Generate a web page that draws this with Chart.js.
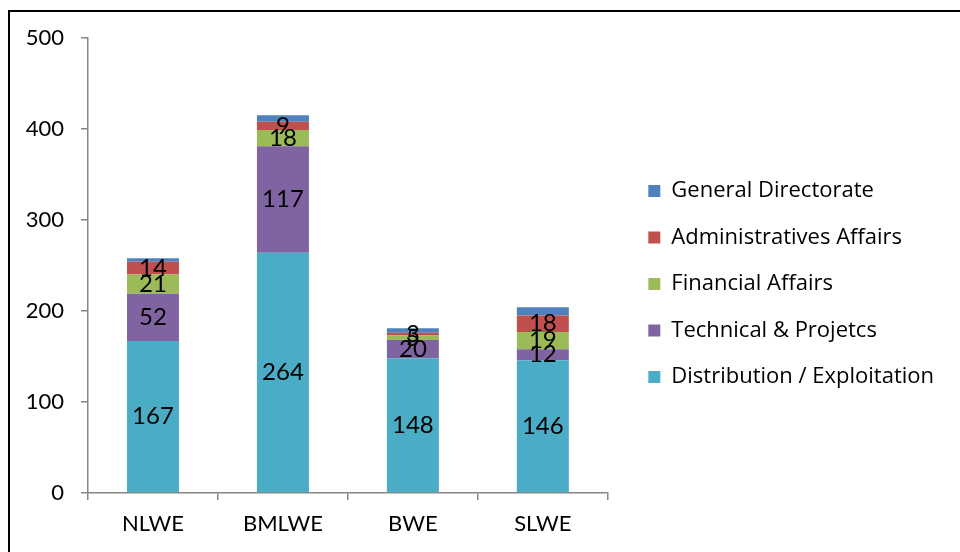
<!DOCTYPE html>
<html>
<head>
<meta charset="utf-8">
<script src="https://cdn.jsdelivr.net/npm/chart.js@4.4.0/dist/chart.umd.min.js"></script>
<style>
  html, body { margin: 0; padding: 0; background: #fff; }
  #wrap { position: relative; width: 960px; height: 552px; overflow: hidden; }
  #frame { position: absolute; left: 8px; top: 10px; width: 960px; height: 560px; border-top: 2px solid #000; border-left: 2px solid #000; pointer-events: none; }
  canvas { position: absolute; left: 0; top: 0; }
</style>
</head>
<body>
<div id="wrap">
  <div id="frame"></div>
  <canvas id="chart" width="960" height="552"></canvas>
</div>
<script>
var categories = ['NLWE', 'BMLWE', 'BWE', 'SLWE'];
var distribution = [167, 264, 148, 146];
var technical = [52, 117, 20, 12];
var financial = [21, 18, 5, 19];
var administrative = [14, 9, 3, 18];
var general = [4, 7, 5, 9];
var yTicks = [0, 100, 200, 300, 400, 500];

var FONT = 'Lato, "Open Sans", sans-serif';
var LEGEND_FONT = '"Open Sans", Lato, sans-serif';
var AXIS = '#868686';

// draws the value in the middle of each stacked segment
var barLabels = {
    id: 'barLabels',
    afterDatasetsDraw: function(chart) {
        var ctx = chart.ctx;
        ctx.save();
        ctx.font = '24px ' + FONT;
        ctx.fillStyle = '#000';
        ctx.textAlign = 'center';
        ctx.textBaseline = 'middle';
        chart.data.datasets.forEach(function(ds, i) {
            if (!ds.showLabels) return;
            chart.getDatasetMeta(i).data.forEach(function(bar, j) {
                var p = bar.getProps(['x', 'y', 'base'], true);
                ctx.fillText(ds.data[j], p.x, (p.y + p.base) / 2);
            });
        });
        ctx.restore();
    }
};

var ctx = document.getElementById('chart').getContext('2d');
var myChart = new Chart(ctx, {
    type: 'bar',
    data: {
        labels: categories,
        datasets: [
            { label: 'Distribution / Exploitation', data: distribution, backgroundColor: '#4BACC6', showLabels: true },
            { label: 'Technical & Projetcs', data: technical, backgroundColor: '#8064A2', showLabels: true },
            { label: 'Financial Affairs', data: financial, backgroundColor: '#9BBB59', showLabels: true },
            { label: 'Administratives Affairs', data: administrative, backgroundColor: '#C0504D', showLabels: true },
            { label: 'General Directorate', data: general, backgroundColor: '#4F81BD', showLabels: false }
        ]
    },
    options: {
        responsive: false,
        animation: false,
        datasets: {
            bar: { categoryPercentage: 1.0, barPercentage: 0.4 }
        },
        layout: { padding: { top: 38, left: 0, bottom: 0, right: 16 } },
        plugins: {
            tooltip: { enabled: false },
            legend: {
                position: 'right',
                reverse: true,
                fullSize: false,
                maxWidth: 400,
                title: { display: true, text: '', font: { size: 10 }, padding: { top: 25, bottom: 0 } },
                labels: {
                    color: '#000',
                    font: { family: LEGEND_FONT, size: 22 },
                    boxWidth: 12,
                    boxHeight: 12,
                    padding: 24.5
                }
            }
        },
        scales: {
            x: {
                stacked: true,
                grid: { drawOnChartArea: false, tickLength: 7, color: AXIS, lineWidth: 1.5 },
                border: { color: AXIS, width: 1.5 },
                ticks: { color: '#000', font: { family: FONT, size: 22 }, padding: 11 },
                afterFit: function(s) { s.height = 59; }
            },
            y: {
                stacked: true,
                min: 0,
                max: 500,
                grid: { drawOnChartArea: false, tickLength: 7, color: AXIS, lineWidth: 1.5 },
                border: { color: AXIS, width: 1.5 },
                ticks: { color: '#000', font: { family: FONT, size: 22 }, padding: 17 },
                afterBuildTicks: function(s) { s.ticks = yTicks.map(function(v) { return { value: v }; }); },
                afterFit: function(s) { s.width = 88; }
            },
            gap: {
                type: 'linear',
                position: 'right',
                display: true,
                grid: { display: false },
                border: { display: false },
                ticks: { display: false },
                afterFit: function(s) { s.width = 16; }
            }
        }
    },
    plugins: [barLabels]
});
</script>
</body>
</html>
